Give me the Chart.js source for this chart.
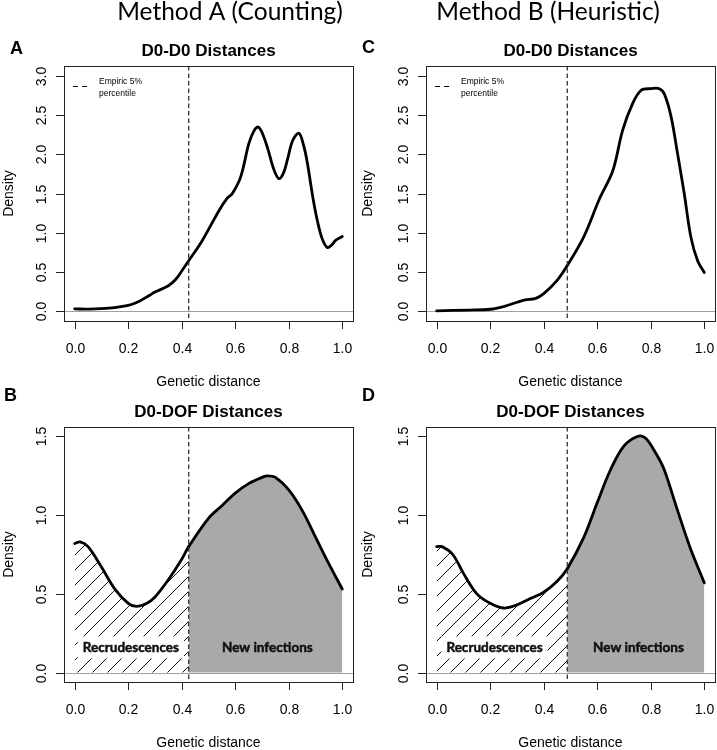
<!DOCTYPE html>
<html>
<head>
<meta charset="utf-8">
<script src="https://cdn.jsdelivr.net/npm/chart.js@4"></script>
<style>
  body { margin: 0; background: #fff; }
  #wrap { position: relative; width: 717px; height: 750px; overflow: hidden; }
  canvas { position: absolute; }
</style>
</head>
<body>
<div id="wrap">
  <canvas id="panelA" width="358" height="392" style="left:0;top:0"></canvas>
  <canvas id="panelC" width="359" height="392" style="left:358px;top:0"></canvas>
  <canvas id="panelB" width="358" height="375" style="left:0;top:375px"></canvas>
  <canvas id="panelD" width="359" height="375" style="left:358px;top:375px"></canvas>
</div>
<script>
// ---- values ----
const distA = [0, 0.05, 0.128, 0.2, 0.24, 0.28, 0.3, 0.35, 0.377, 0.4, 0.426, 0.477, 0.539, 0.57, 0.589, 0.62, 0.651, 0.67, 0.686, 0.7, 0.72, 0.745, 0.763, 0.78, 0.794, 0.815, 0.838, 0.855, 0.869, 0.89, 0.907, 0.925, 0.944, 0.96, 0.975, 1.0];
const densA = [0.025, 0.022, 0.034, 0.07, 0.12, 0.2, 0.24, 0.32, 0.4, 0.51, 0.64, 0.9, 1.28, 1.44, 1.5, 1.71, 2.14, 2.3, 2.35, 2.28, 2.09, 1.8, 1.69, 1.76, 1.92, 2.18, 2.27, 2.12, 1.9, 1.45, 1.15, 0.92, 0.81, 0.84, 0.9, 0.95];

const distC = [0, 0.12, 0.2, 0.25, 0.3, 0.33, 0.37, 0.4, 0.45, 0.488, 0.55, 0.608, 0.658, 0.695, 0.732, 0.764, 0.8, 0.832, 0.851, 0.876, 0.9, 0.925, 0.95, 0.975, 1.0];
const densC = [0.0, 0.01, 0.02, 0.055, 0.11, 0.14, 0.16, 0.22, 0.39, 0.58, 0.95, 1.43, 1.79, 2.31, 2.65, 2.82, 2.84, 2.84, 2.77, 2.48, 2.01, 1.5, 0.94, 0.64, 0.49];

const distB = [0, 0.02, 0.05, 0.1, 0.15, 0.2, 0.23, 0.27, 0.3, 0.35, 0.4, 0.426, 0.5, 0.55, 0.6, 0.65, 0.7, 0.72, 0.75, 0.8, 0.85, 0.9, 0.95, 1.0];
const densB = [0.82, 0.83, 0.8, 0.67, 0.53, 0.44, 0.42, 0.44, 0.48, 0.59, 0.72, 0.8, 0.98, 1.06, 1.14, 1.2, 1.24, 1.25, 1.24, 1.16, 1.03, 0.86, 0.69, 0.53];

const distD = [0, 0.02, 0.06, 0.1, 0.15, 0.2, 0.25, 0.3, 0.35, 0.4, 0.45, 0.488, 0.55, 0.6, 0.65, 0.7, 0.75, 0.78, 0.82, 0.85, 0.9, 0.95, 1.0];
const densD = [0.8, 0.8, 0.75, 0.63, 0.5, 0.44, 0.41, 0.43, 0.47, 0.51, 0.58, 0.66, 0.86, 1.08, 1.29, 1.44, 1.5, 1.49, 1.39, 1.29, 1.03, 0.78, 0.57];

const cutoffA = 0.426;   // empiric 5% percentile, method A
const cutoffB = 0.488;   // method B

const xTicks = [0, 0.2, 0.4, 0.6, 0.8, 1.0];
const xTickLabels = ["0.0", "0.2", "0.4", "0.6", "0.8", "1.0"];
const yTicksTop = [0, 0.5, 1.0, 1.5, 2.0, 2.5, 3.0];
const yTickLabelsTop = ["0.0", "0.5", "1.0", "1.5", "2.0", "2.5", "3.0"];
const yTicksBottom = [0, 0.5, 1.0, 1.5];
const yTickLabelsBottom = ["0.0", "0.5", "1.0", "1.5"];

const HELV = '"Liberation Sans", Arial, sans-serif';
const GREY_FILL = '#a9a9a9';

function hatch(ctx) {
  const c = document.createElement('canvas');
  c.width = 15; c.height = 15;
  const g = c.getContext('2d');
  g.strokeStyle = '#111';
  g.lineWidth = 1;
  g.beginPath();
  g.moveTo(0, 15); g.lineTo(15, 0);
  g.moveTo(-2, 2); g.lineTo(2, -2);
  g.moveTo(13, 17); g.lineTo(17, 13);
  g.stroke();
  return ctx.createPattern(c, 'repeat');
}

// axes, box, titles etc. drawn R-style with the chart's own scales
const panelDecor = {
  id: 'panelDecor',
  beforeDatasetsDraw(chart, args, o) {
    const { ctx, chartArea: a, scales: { y } } = chart;
    const y0 = Math.round(y.getPixelForValue(0)) + 0.5;
    ctx.save();
    ctx.strokeStyle = '#a0a0a0';
    ctx.lineWidth = 1;
    ctx.beginPath();
    ctx.moveTo(a.left, y0);
    ctx.lineTo(a.right, y0);
    ctx.stroke();
    ctx.restore();
  },
  afterDatasetsDraw(chart, args, o) {
    const { ctx, chartArea: a, scales: { x, y } } = chart;
    const cx = (a.left + a.right) / 2;
    ctx.save();

    // region labels
    if (o.regions) {
      ctx.font = 'bold 13.5px Lato, "Open Sans", sans-serif';
      ctx.textAlign = 'center';
      ctx.textBaseline = 'middle';
      ctx.lineWidth = 0.5;
      ctx.strokeStyle = '#111';
      const ly = y.getPixelForValue(o.regions.y);
      const rx = x.getPixelForValue(o.regions.recX);
      const nx = x.getPixelForValue(o.regions.newX);
      const w = ctx.measureText('Recrudescences').width;
      ctx.fillStyle = '#fff';
      ctx.fillRect(rx - w / 2 - 5, ly - 11, w + 10, 22);
      ctx.fillStyle = '#111';
      ctx.fillText('Recrudescences', rx, ly);
      ctx.strokeText('Recrudescences', rx, ly);
      ctx.fillText('New infections', nx, ly);
      ctx.strokeText('New infections', nx, ly);
    }

    // cutoff
    const cp = x.getPixelForValue(o.cutoff);
    ctx.strokeStyle = '#333';
    ctx.lineWidth = 1.3;
    ctx.setLineDash([4.5, 3]);
    ctx.beginPath();
    ctx.moveTo(cp, a.top);
    ctx.lineTo(cp, a.bottom);
    ctx.stroke();
    ctx.setLineDash([]);

    // box
    ctx.strokeStyle = '#222';
    ctx.lineWidth = 1;
    ctx.strokeRect(Math.round(a.left) + 0.5, Math.round(a.top) + 0.5,
      Math.round(a.right - a.left), Math.round(a.bottom - a.top));

    // ticks
    ctx.fillStyle = '#000';
    ctx.font = '14px ' + HELV;
    ctx.textAlign = 'center';
    ctx.textBaseline = 'middle';
    ctx.beginPath();
    xTicks.forEach((v, i) => {
      const px = Math.round(x.getPixelForValue(v)) + 0.5;
      ctx.moveTo(px, a.bottom);
      ctx.lineTo(px, a.bottom + 8);
      ctx.fillText(xTickLabels[i], px, a.bottom + 28);
    });
    o.yTicks.forEach((v, i) => {
      const py = Math.round(y.getPixelForValue(v)) + 0.5;
      ctx.moveTo(a.left, py);
      ctx.lineTo(a.left - 8, py);
      ctx.save();
      ctx.translate(a.left - 22, py);
      ctx.rotate(-Math.PI / 2);
      ctx.fillText(o.yTickLabels[i], 0, 0);
      ctx.restore();
    });
    ctx.stroke();

    // axis titles
    ctx.fillText('Genetic distance', cx, a.bottom + 61.5);
    ctx.save();
    ctx.translate(o.densityX, (a.top + a.bottom) / 2);
    ctx.rotate(-Math.PI / 2);
    ctx.fillText('Density', 0, 0);
    ctx.restore();

    // panel title + letter
    ctx.font = 'bold 17px ' + HELV;
    ctx.fillText(o.title, cx, a.top - 15);
    ctx.font = 'bold 18px ' + HELV;
    ctx.textAlign = 'left';
    ctx.fillText(o.letter, o.letterX, o.letterY);

    // legend
    if (o.legend) {
      ctx.strokeStyle = '#000';
      ctx.lineWidth = 1;
      ctx.setLineDash([5, 4]);
      ctx.beginPath();
      ctx.moveTo(a.left + 9, a.top + 20.5);
      ctx.lineTo(a.left + 23, a.top + 20.5);
      ctx.stroke();
      ctx.setLineDash([]);
      ctx.font = '8.5px ' + HELV;
      ctx.fillText('Empiric 5%', a.left + 35, a.top + 16);
      ctx.fillText('percentile', a.left + 35, a.top + 28);
    }

    // column header
    if (o.header) {
      ctx.font = '24.5px Lato, "Open Sans", sans-serif';
      ctx.textAlign = 'center';
      ctx.textBaseline = 'alphabetic';
      ctx.fillText(o.header.text, o.header.x, 20);
    }
    ctx.restore();
  }
};

function makePanel(id, dist, dens, cfg) {
  const ctx = document.getElementById(id).getContext('2d');
  const pattern = hatch(ctx);
  return new Chart(ctx, {
    type: 'line',
    data: {
      datasets: [{
        data: dist.map((d, i) => ({ x: d, y: dens[i] })),
        borderColor: '#000',
        borderWidth: 2.8,
        borderCapStyle: 'round',
        borderJoinStyle: 'round',
        pointRadius: 0,
        tension: 0.35,
        fill: cfg.regions ? 'origin' : false,
        backgroundColor: GREY_FILL,
        segment: cfg.regions ? {
          backgroundColor: s => s.p0.parsed.x < cfg.cutoff - 1e-9 ? pattern : GREY_FILL
        } : undefined
      }]
    },
    options: {
      responsive: false,
      animation: false,
      layout: { padding: { top: cfg.top, right: cfg.right, left: 0, bottom: 0 } },
      plugins: {
        legend: { display: false },
        tooltip: { enabled: false },
        panelDecor: cfg
      },
      scales: {
        x: {
          type: 'linear', min: -0.04, max: 1.04, bounds: 'data',
          ticks: { display: false }, grid: { display: false }, border: { display: false },
          afterFit: s => { s.height = cfg.xh; }
        },
        y: {
          type: 'linear', min: cfg.ymin, max: cfg.ymax, bounds: 'data',
          ticks: { display: false }, grid: { display: false }, border: { display: false },
          afterFit: s => { s.width = cfg.yw; }
        }
      }
    },
    plugins: [panelDecor]
  });
}

makePanel('panelA', distA, densA, {
  top: 66, right: 5, xh: 71, yw: 64, ymin: -0.13, ymax: 3.13,
  cutoff: cutoffA, yTicks: yTicksTop, yTickLabels: yTickLabelsTop,
  title: 'D0-D0 Distances', letter: 'A', letterX: 10, letterY: 49, densityX: 9,
  legend: true, header: { text: 'Method A (Counting)', x: 230 }
});
makePanel('panelC', distC, densC, {
  top: 66, right: 2, xh: 71, yw: 68, ymin: -0.13, ymax: 3.13,
  cutoff: cutoffB, yTicks: yTicksTop, yTickLabels: yTickLabelsTop,
  title: 'D0-D0 Distances', letter: 'C', letterX: 4, letterY: 48, densityX: 10,
  legend: true, header: { text: 'Method B (Heuristic)', x: 190 }
});
makePanel('panelB', distB, densB, {
  top: 52, right: 5, xh: 68, yw: 64, ymin: -0.06, ymax: 1.56,
  cutoff: cutoffA, yTicks: yTicksBottom, yTickLabels: yTickLabelsBottom,
  title: 'D0-DOF Distances', letter: 'B', letterX: 4, letterY: 21, densityX: 9,
  regions: { y: 0.16, recX: 0.21, newX: 0.72 }
});
makePanel('panelD', distD, densD, {
  top: 52, right: 2, xh: 68, yw: 68, ymin: -0.06, ymax: 1.56,
  cutoff: cutoffB, yTicks: yTicksBottom, yTickLabels: yTickLabelsBottom,
  title: 'D0-DOF Distances', letter: 'D', letterX: 4, letterY: 21, densityX: 10,
  regions: { y: 0.16, recX: 0.216, newX: 0.754 }
});
</script>
</body>
</html>
